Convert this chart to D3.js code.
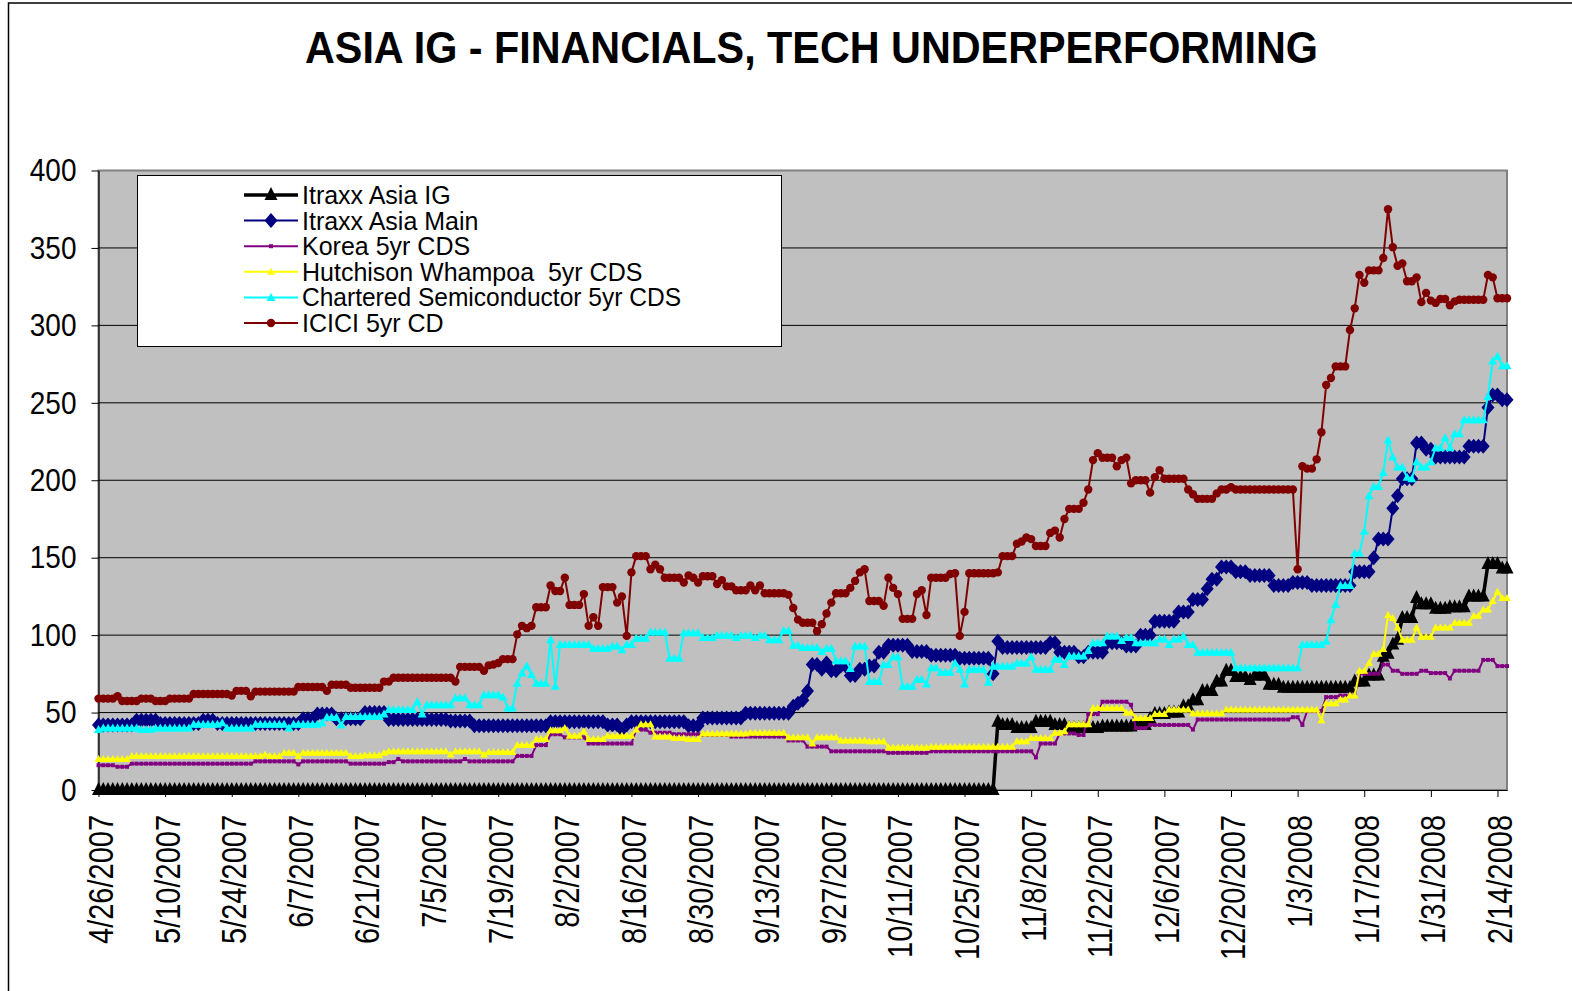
<!DOCTYPE html>
<html><head><meta charset="utf-8">
<script src="https://cdn.jsdelivr.net/npm/d3@7"></script>
<style>
body{margin:0;background:#fff}
svg{display:block;font-family:"Liberation Sans",Arial,sans-serif}
</style>
</head><body>
<svg id="c" width="1572" height="991"></svg>
<script>
const title = "ASIA IG - FINANCIALS, TECH UNDERPERFORMING";
const firstDate = [2007, 3, 26];   // 4/26/2007
const lastDate = [2008, 1, 16];    // 2/16/2008 (daily series)
const tickLabels = ["4/26/2007","5/10/2007","5/24/2007","6/7/2007","6/21/2007","7/5/2007","7/19/2007","8/2/2007","8/16/2007","8/30/2007","9/13/2007","9/27/2007","10/11/2007","10/25/2007","11/8/2007","11/22/2007","12/6/2007","12/20/2007","1/3/2008","1/17/2008","1/31/2008","2/14/2008"];
const yTicks = [0,50,100,150,200,250,300,350,400];
const seriesNames = ["Itraxx Asia IG","Itraxx Asia Main","Korea 5yr CDS","Hutchison Whampoa  5yr CDS","Chartered Semiconductor 5yr CDS","ICICI 5yr CD"];

// one row = one week (Thu..Wed)
const itraxxAsiaIG = [
0,0,0,0,0,0,0, 0,0,0,0,0,0,0, 0,0,0,0,0,0,0, 0,0,0,0,0,0,0, 0,0,0,0,0,0,0,
0,0,0,0,0,0,0, 0,0,0,0,0,0,0, 0,0,0,0,0,0,0, 0,0,0,0,0,0,0, 0,0,0,0,0,0,0,
0,0,0,0,0,0,0, 0,0,0,0,0,0,0, 0,0,0,0,0,0,0, 0,0,0,0,0,0,0, 0,0,0,0,0,0,0,
0,0,0,0,0,0,0, 0,0,0,0,0,0,0, 0,0,0,0,0,0,0, 0,0,0,0,0,0,0, 0,0,0,0,0,0,0,
0,0,0,0,0,0,0, 0,0,0,0,0,0,0, 0,0,0,0,0,0,0, 0,0,0,0,0,0,0, 0,0,0,0,0,0,0,
0,0,0,0,0,0,0, 0,0,0,0,0,0,0,
44,42,42,42,40,40,40,
40,44,44,44,44,42,42,
42,40,40,40,40,40,40,
40,41,41,41,41,41,41,
41,42,42,42,46,49,49,
49,50,50,50,54,54,58,
58,64,64,64,70,70,77,
77,73,73,73,71,74,74,
74,68,68,68,66,66,66,
66,66,66,66,66,66,66,
66,66,66,66,66,70,70,
70,74,74,74,86,88,94,
97,111,111,111,124,120,120,
120,117,117,117,118,118,118,
118,125,125,125,125,146,146,
146,143,143];

const itraxxAsiaMain = [
42,42,42,42,42,42,42,
42,45,45,45,45,45,43,
43,43,43,43,43,43,43,
43,45,45,45,43,43,43,
43,43,43,43,43,43,43,
43,43,43,43,43,43,43,
43,46,46,46,49,49,49,
49,46,46,46,46,46,46,
50,50,50,50,50,45.5,45.5,
45.5,45.5,45.5,45.5,45.5,45.5,45.5,
45.5,45.5,45.5,45.5,44.5,44.5,44.5,
44.5,44.5,41.5,41.5,41.5,41.5,41.5,
41.5,41.5,41.5,41.5,41.5,41.5,41.5,
41.5,41.5,41.5,41.5,44,44,44,
44,44,44,44,44,44,44,
44,44,42,42,42,39,42,
44,44,44,44,44,44,44,
44,44,44,44,44,41.5,41.5,
41.5,46.5,46.5,46.5,46.5,46.5,46.5,
46.5,46.5,46.5,49.5,49.5,49.5,49.5,
49.5,49.5,49.5,49.5,49.5,49.5,54,
56,58,64,81,81,78,82,
77,77,80,80,74,74,78,
78,80,80,89,89,93.5,93.5,
93.5,93.5,93.5,89.5,89.5,89.5,89.5,
87,87,87,87,87,87,85,
85,85,85,85,85,85,75,
96,92,92,92,92,92,92,
92,92,92,92,95,95,89,
89,89,89,86,86,89,89,
89,89,95,95,95,95,93,
93,93,100,100,100,109,109,
109,109,109,115,115,115,123,
123,123,130,136,136,144,144,
144,141,141,141,138.5,138.5,138.5,
138.5,138.5,132,132,132,132,134,
134,134,134,132,132,132,132,
132,132,132,132,132,141,141,
141,141,150,162,162,162,182,
190,201,201,201,224,224,220,
220,215,215,215,215,215,215,
215,222,222,222,222,247,255,
255,252,252];

const korea5yr = [
16,16,16,16,15,15,15,
17,17,17,17,17,17,17,
17,17,17,17,17,17,17,
17,17,17,17,17,17,17,
17,17,17,17,17,18.5,18.5,
18.5,18.5,18.5,18.5,18.5,18.5,18.5,
16.5,18.5,18.5,18.5,18.5,18.5,18.5,
18.5,18.5,18.5,18.5,17,17,17,
17,17,17,17,17,18,18,
20,18.5,18.5,18.5,18.5,18.5,18.5,
18.5,18.5,18.5,18.5,18.5,18.5,18.5,
20,18.5,18.5,18.5,18.5,18.5,18.5,
18.5,18.5,18.5,18.5,22,22,22,
22,29,29,29,36,36,36,
34,34,34,34,34,30,30,
30,30,30,30,30,30,30,
30,39,39,39,37,37,37,
37,37,36,36,36,36,36,
36,35.5,35.5,35.5,35.5,35.5,35.5,
34.5,34.5,34.5,34.5,34.5,34.5,34.5,
34.5,34.5,34.5,34.5,34.5,32,32,
32,32,28,28,28,28,28,
25,25,25,25,25,25,25,
25,25,25,25,25,24,24,
24,24,24,24,24,24,24,
25,25,25,25,25,25,25,
25,25,25,25,25,25,25,
25,25,25,25,25,25,25,
25,21,30,30,30,30,36.5,
36.5,36.5,36.5,35.5,35.5,49,49,
49,57,57,57,57,57,57,
55,40,40,40,42,42,42,
42,42,42,42,42,42,39,
45.5,45.5,45.5,45.5,45.5,45.5,45.5,
45.5,45.5,45.5,45.5,45.5,45.5,45.5,
45.5,45.5,45.5,45.5,45.5,45.5,47,
47,42,51,51,51,51,60,
60,60,61,61,61,61,75,
75,75,75,75,81,81,77,
77,75,75,75,75,77,77,
75.5,75.5,75.5,75.5,72,77,77,
77,77,77,77,84,84,84,
80,80,80];

const hutchison5yr = [
20,20,20,20,20,20,20,
22,22,22,22,22,22,22,
22,22,22,22,22,22,22,
22,22,22,22,22,22,22,
22,22,22,22,22,22,22,
23,22,22,22,24,24,24,
22,24,24,24,24,24,24,
24,24,24,24,22,22,22,
22.5,22.5,22.5,22.5,24,25,25,
25,25,25,25,25,25,25,
25,25,25,25,23,25,25,
25,25,25,25,23,24.5,24.5,
24.5,24.5,24.5,24.5,29,29,29,
29,33,33,33,38.5,38.5,38.5,
40,35,35,35,38,33,33,
33,33,35,35,35,35,35,
35,39,42.5,42.5,42.5,34.5,34.5,
34.5,34.5,33.5,33.5,33.5,33,33,
33,36.5,36.5,36.5,36.5,36.5,36.5,
36.5,36.5,36.5,36.5,37,37,37,
37,37,37,37,37,34,34,
34,34,34,30,34,34,34,
34,34,32,32,32,32,32,
32,31.5,31.5,31.5,31.5,27.5,27.5,
27.5,27.5,27.5,27.5,27.5,27.5,27.5,
28,28,28,28,28,28,28,
28,28,28,28,28,28,28,
28,28,28,28,31.5,31.5,31.5,
33.5,33.5,33.5,33.5,33.5,37,37,
38,42.5,42.5,42.5,42.5,42.5,53,
53,53,53,53,53,53,50,
50,46.5,46.5,46.5,46.5,49,49,
49,52,52,52,52,52,49.5,
49.5,49.5,49.5,49.5,49.5,49.5,52,
52,52,52,52,52,52,52,
52,52,52,52,52,52,52,
52,52,52,52,52,45,56,
56,56,58.5,58.5,61,61,77,
77,82,88,88,91,113,111,
105,97,97,97,105,99,99,
99,105,105,105,105,108,108,
108,108,112.5,112.5,116.5,116.5,122,
128,124,124];

const chartered5yr = [
39,40,40,40,40,40,40,
40,40,39,39,39,40,40,
40,40,40,40,40,40,42.5,
42.5,42.5,42.5,42.5,42.5,43.5,40,
40,40,40,40,40,42.5,42.5,
42.5,42.5,42.5,42.5,42.5,40,42.5,
42.5,42.5,42.5,42.5,42.5,43.5,47,
47,47,42,47.5,47.5,47.5,47.5,
47.5,47.5,47.5,47.5,49,52,52,
52,52,52,52,57,49,55,
55,55,55,55,55,59.5,59.5,
59.5,55,55,55,61.5,61.5,61.5,
61.5,60,53,53,69,75.5,80,
74.5,69,69,69,97,67,94,
94,94,94,94,94,94,91.5,
91.5,91.5,91.5,93,93,90.5,94,
94,98,98,98,102,102,102,
102,85,85,85,101.5,101.5,101.5,
101.5,98.5,98.5,98.5,100,100,100,
100,98.5,100,100,100,98.5,100,
100,97,97,97,103,103,93.5,
93.5,92,92,92,92,89.5,91.5,
91.5,83.5,83.5,83.5,78.5,93,93,
93,70,70,70,81,81,86,
86,67,67,67,71.5,71.5,68.5,
79,79,76,76,76,82,78,
68.5,78,78,78,78,69.5,80,
80,80,80,80,82,82,82,
86,78,78,78,78,84.5,84.5,
81,86.5,86.5,86.5,86.5,90,95,
95,95,99.5,99.5,99.5,96.5,98.5,
98.5,95,95,95,95,95,97.5,
97.5,94,97.5,97.5,99.5,94,94,
89,89,89,89,89,89,89,
89,79,79,79,79,79,79,
79,79,79,79,79,79,79,
79,94,94,94,94,94,96,
110,120,132,132,132,153,153,
167,190,196,196,205,226,215,
208.5,208.5,202,201,212,208.5,208.5,
212,221,221,227.5,221,230,230,
239,239,239,239,239,254,277,
280,274,274];

const icici5yr = [
59,59,59,59,60.5,57.5,57.5,
57.5,57.5,59,59,59,57.5,57.5,
57.5,59,59,59,59,59,62,
62,62,62,62,62,62,62,
61,64,64,64,60.5,63.5,63.5,
63.5,63.5,63.5,63.5,63.5,63.5,63.5,
66.5,66.5,66.5,66.5,66.5,66.5,64,
68,68,68,68,66,66,66,
66,66,66,66,70,70,72.5,
72.5,72.5,72.5,72.5,72.5,72.5,72.5,
72.5,72.5,72.5,72.5,72.5,70,79.5,
79.5,79.5,79.5,79.5,77,80.5,81,
82,84.5,84.5,84.5,100.5,106,104.5,
106,118,118,118,132,128.5,128.5,
137,119.5,119.5,119.5,126.5,106,111.5,
106,131,131,131,121,125,99.5,
140.5,151,151,151,142.5,145.5,142.5,
137,137,137,137,134,138.5,137,
134,138,138,138,133,135.5,131.5,
131.5,129,129,129,132,129,132,
127,127,127,127,127,126,117.5,
110,108,108,108,102.5,107,114,
121,127,127,127,130.5,135,140.5,
142.5,122,122,122,119,137,130.5,
126.5,110.5,110.5,110.5,126.5,129,113,
137,137,137,137,139.5,140,99.5,
115,140,140,140,140,140,140,
140.5,151,151,151,159,160.5,163,
162,157.5,157.5,157.5,166,167.5,163,
175,181.5,181.5,181.5,185.5,194,213,
217.5,214.5,214.5,214.5,209,213,214.5,
198,200,200,200,192,202,206.5,
201,201,201,201,201,194,191,
188,188,188,188,191.5,194,194,
195.5,194,194,194,194,194,194,
194,194,194,194,194,194,194,
142.5,209,207.5,207.5,213.5,231,261.5,
266,273.5,273.5,273.5,297,311,332.5,
327.5,335.5,335.5,335.5,343.5,375,350.5,
338.5,340,328.5,328.5,331,315,321,
316,314.5,317,317,313,315.5,316.5,
316.5,316.5,316.5,316.5,316.5,332.5,331,
317.5,317.5,317.5];

// ---------- drawing ----------
const W = 1572, H = 991;
const plot = {left: 98.5, right: 1507, top: 170.5, bottom: 790};
const svg = d3.select("#c");

const dates = d3.utcDay.range(new Date(Date.UTC(...firstDate)), d3.utcDay.offset(new Date(Date.UTC(...lastDate)), 1));
const x = d3.scaleUtc().domain([dates[0], dates[dates.length - 1]]).range([plot.left, plot.right]);
const y = d3.scaleLinear().domain([0, 400]).range([plot.bottom, plot.top]);

const series = [
  {name: seriesNames[0], values: itraxxAsiaIG,   color: "#000000", width: 3.5, marker: "M0,-8L6.5,5L-6.5,5Z"},
  {name: seriesNames[1], values: itraxxAsiaMain, color: "#000080", width: 2,   marker: "M0,-7.5L6.5,0L0,7.5L-6.5,0Z"},
  {name: seriesNames[2], values: korea5yr,       color: "#800080", width: 2,   marker: "M-2,-2H2V2H-2Z"},
  {name: seriesNames[3], values: hutchison5yr,   color: "#FFFF00", width: 2,   marker: "M0,-4L4,3L-4,3Z"},
  {name: seriesNames[4], values: chartered5yr,   color: "#00FFFF", width: 2,   marker: "M0,-4.5L4.5,3.5L-4.5,3.5Z"},
  {name: seriesNames[5], values: icici5yr,       color: "#800000", width: 2,   circle: 4.2}
];

svg.append("rect").attr("width", W).attr("height", H).attr("fill", "#fff");
svg.append("rect").attr("x", 8.5).attr("y", 3).attr("width", W + 20).attr("height", H + 20)
  .attr("fill", "none").attr("stroke", "#000").attr("stroke-width", 1.5);

svg.append("text").attr("x", 811.5).attr("y", 63).attr("text-anchor", "middle")
  .attr("font-size", 44).attr("font-weight", "bold")
  .attr("textLength", 1013).attr("lengthAdjust", "spacingAndGlyphs").text(title);

svg.append("rect").attr("x", plot.left).attr("y", plot.top)
  .attr("width", plot.right - plot.left).attr("height", plot.bottom - plot.top)
  .attr("fill", "#C0C0C0").attr("stroke", "#808080").attr("stroke-width", 2);

svg.append("g").selectAll("line").data(yTicks.filter(v => v > 0 && v < 400)).join("line")
  .attr("x1", plot.left).attr("x2", plot.right)
  .attr("y1", d => y(d)).attr("y2", d => y(d))
  .attr("stroke", "#000").attr("stroke-width", 1);

// y axis
const gy = svg.append("g").attr("transform", `translate(${plot.left},0)`)
  .call(d3.axisLeft(y).tickValues(yTicks).tickSize(7).tickSizeOuter(0).tickPadding(15));
gy.attr("font-family", null).attr("font-size", null);
gy.select(".domain").attr("stroke", "#000").attr("stroke-width", 1.2);
gy.selectAll(".tick line").attr("stroke", "#000");
gy.selectAll("text").attr("font-size", 28).attr("fill", "#000").attr("transform", "scale(1,1.15)");

// x axis
const parse = d3.utcParse("%m/%d/%Y");
const tickDates = tickLabels.map(s => parse(s));
const gx = svg.append("g").attr("transform", `translate(0,${plot.bottom})`)
  .call(d3.axisBottom(x).tickValues(tickDates).tickSize(7).tickSizeOuter(0).tickFormat((d, i) => tickLabels[i]));
gx.attr("font-family", null).attr("font-size", null);
gx.select(".domain").attr("stroke", "#000").attr("stroke-width", 1.2);
gx.selectAll(".tick line").attr("stroke", "#000");
gx.selectAll("text").attr("font-size", 29).attr("fill", "#000")
  .attr("x", -25).attr("y", 0).attr("dy", "0.4em").attr("text-anchor", "end")
  .attr("transform", "rotate(-90) scale(1,1.2)");

// series
const line = d3.line().x((d, i) => x(dates[i])).y(d => y(d));
series.forEach(s => {
  const g = svg.append("g");
  g.append("path").attr("d", line(s.values)).attr("fill", "none")
    .attr("stroke", s.color).attr("stroke-width", s.width).attr("stroke-linejoin", "round");
  if (s.circle) {
    g.selectAll("circle").data(s.values).join("circle")
      .attr("cx", (d, i) => x(dates[i])).attr("cy", d => y(d)).attr("r", s.circle).attr("fill", s.color);
  } else {
    g.selectAll("path.m").data(s.values).join("path").attr("class", "m")
      .attr("d", s.marker).attr("transform", (d, i) => `translate(${x(dates[i])},${y(d)})`).attr("fill", s.color);
  }
});

// legend
const lg = svg.append("g");
lg.append("rect").attr("x", 137.5).attr("y", 175.5).attr("width", 644).attr("height", 171)
  .attr("fill", "#fff").attr("stroke", "#000").attr("stroke-width", 1);
series.forEach((s, k) => {
  const cy = 195 + k * 25.6;
  const g = lg.append("g").attr("transform", `translate(0,${cy})`);
  g.append("line").attr("x1", 244).attr("x2", 298).attr("y1", 0).attr("y2", 0)
    .attr("stroke", s.color).attr("stroke-width", s.width);
  if (s.circle) g.append("circle").attr("cx", 271).attr("cy", 0).attr("r", s.circle).attr("fill", s.color);
  else g.append("path").attr("d", s.marker).attr("transform", "translate(271,0)").attr("fill", s.color);
  g.append("text").attr("x", 302).attr("y", 0).attr("dy", "0.36em").attr("font-size", 25)
    .attr("textLength", k === 4 ? 379 : null).attr("lengthAdjust", "spacingAndGlyphs")
    .style("white-space", "pre").attr("fill", "#000").text(s.name);
});
</script>
</body></html>
